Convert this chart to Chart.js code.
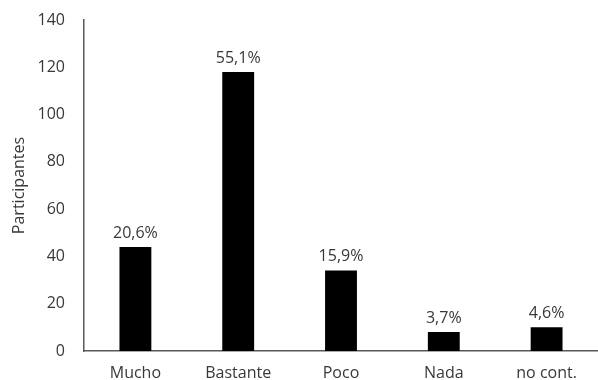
<!DOCTYPE html>
<html>
<head>
<meta charset="utf-8">
<script src="https://cdn.jsdelivr.net/npm/chart.js@4.4.1/dist/chart.umd.min.js"></script>
<style>
html,body{margin:0;padding:0;background:#fff;}
#wrap{width:598px;height:380px;}
</style>
</head>
<body>
<div id="wrap"><canvas id="c" width="598" height="380"></canvas></div>
<script>
const categories = ["Mucho", "Bastante", "Poco", "Nada", "no cont."];
const participantes = [44, 118, 34, 8, 10];
const percentLabels = ["20,6%", "55,1%", "15,9%", "3,7%", "4,6%"];
const yTicks = [0, 20, 40, 60, 80, 100, 120, 140];

const FONT = "'Open Sans', sans-serif";
const TEXT = "#383838";

const barLabels = {
  id: "barLabels",
  afterDatasetsDraw(chart) {
    const ctx = chart.ctx;
    const meta = chart.getDatasetMeta(0);
    ctx.save();
    ctx.font = "16px " + FONT;
    ctx.fillStyle = TEXT;
    ctx.textAlign = "center";
    ctx.textBaseline = "bottom";
    meta.data.forEach((bar, i) => {
      ctx.fillText(percentLabels[i], bar.x, bar.y - 6);
    });
    ctx.restore();
  }
};

new Chart(document.getElementById("c"), {
  type: "bar",
  data: {
    labels: categories,
    datasets: [{
      data: participantes,
      backgroundColor: "#000000",
      borderWidth: 0,
      barPercentage: 0.31,
      categoryPercentage: 1.0
    }]
  },
  options: {
    responsive: false,
    animation: false,
    devicePixelRatio: 1,
    layout: { padding: { top: 20, right: 0, left: 0, bottom: 0 } },
    plugins: { legend: { display: false }, tooltip: { enabled: false } },
    scales: {
      x: {
        grid: { display: false, drawTicks: false },
        border: { display: true, color: "#595959", width: 1.5 },
        ticks: { color: TEXT, font: { family: FONT, size: 16 }, padding: 13, maxRotation: 0 },
        afterFit(s) { s.height = 29; s.paddingLeft = 0; s.paddingRight = 0; }
      },
      y: {
        min: 0, max: 140,
        afterBuildTicks(s) { s.ticks = yTicks.map(v => ({ value: v })); },
        grid: { display: false, drawTicks: false },
        border: { display: true, color: "#595959", width: 1.5 },
        ticks: { color: TEXT, font: { family: FONT, size: 16 }, padding: 19 },
        title: { display: true, text: "Participantes", color: TEXT, font: { family: FONT, size: 16 }, padding: { top: 10, bottom: 0 } },
        afterFit(s) { s.width = 84; s.paddingTop = 0; s.paddingBottom = 0; }
      }
    }
  },
  plugins: [barLabels]
});
</script>
</body>
</html>
